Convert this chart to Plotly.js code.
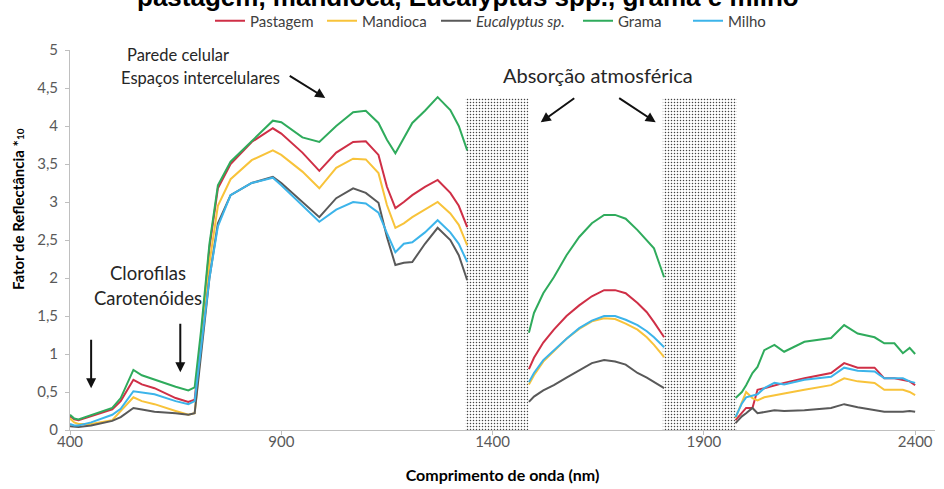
<!DOCTYPE html>
<html><head><meta charset="utf-8">
<script src="https://cdn.plot.ly/plotly-3.0.1.min.js"></script>
<style>html,body{margin:0;padding:0;background:#fff}#chart{width:944px;height:489px}</style>
</head><body><div id="chart"></div>
<script>
// wavelengths (nm); null marks the gaps at the atmospheric absorption bands
const wavelength = [400,410,420,450,500,520,550,570,600,650,680,695,710,730,750,780,830,880,900,950,990,1030,1070,1100,1130,1150,1170,1190,1210,1240,1270,1300,1320,1340,
  null,
  1486,1498,1520,1545,1575,1605,1635,1664,1690,1715,1743,1765,1782,1806,
  null,
  1975,1990,2000,2015,2027,2043,2067,2090,2138,2201,2232,2264,2304,2327,2351,2371,2387,2400];

const pastagem = [0.18,0.14,0.13,0.18,0.27,0.38,0.66,0.6,0.55,0.42,0.37,0.4,1.2,2.4,3.18,3.5,3.79,3.97,3.9,3.65,3.41,3.65,3.79,3.8,3.62,3.2,2.92,3.0,3.09,3.2,3.29,3.12,2.95,2.67,
  null,
  0.8,0.95,1.15,1.32,1.5,1.64,1.76,1.84,1.84,1.8,1.67,1.55,1.42,1.22,
  null,
  0.13,0.22,0.29,0.29,0.53,0.55,0.59,0.62,0.68,0.75,0.88,0.82,0.82,0.68,0.68,0.66,0.64,0.59];

const mandioca = [0.15,0.1,0.08,0.08,0.13,0.25,0.43,0.38,0.34,0.25,0.2,0.22,1.05,2.2,2.95,3.3,3.55,3.68,3.62,3.4,3.18,3.45,3.57,3.56,3.38,2.96,2.66,2.72,2.8,2.9,3.0,2.85,2.7,2.43,
  null,
  0.6,0.72,0.9,1.04,1.2,1.33,1.43,1.47,1.46,1.4,1.32,1.22,1.12,0.96,
  null,
  0.16,0.35,0.5,0.42,0.39,0.43,0.46,0.48,0.53,0.59,0.68,0.64,0.62,0.53,0.53,0.53,0.5,0.46];

const eucalyptus = [0.05,0.04,0.04,0.06,0.12,0.17,0.29,0.27,0.24,0.22,0.2,0.22,1.0,2.0,2.72,3.09,3.25,3.33,3.25,3.0,2.8,3.05,3.18,3.12,2.99,2.54,2.17,2.2,2.21,2.45,2.66,2.5,2.3,1.97,
  null,
  0.37,0.44,0.52,0.59,0.69,0.79,0.88,0.92,0.9,0.86,0.75,0.69,0.63,0.55,
  null,
  0.09,0.18,0.22,0.29,0.22,0.24,0.26,0.25,0.26,0.29,0.34,0.3,0.26,0.24,0.24,0.24,0.25,0.24];

const grama = [0.2,0.15,0.14,0.2,0.29,0.42,0.79,0.72,0.66,0.57,0.52,0.56,1.3,2.45,3.22,3.53,3.8,4.07,4.05,3.85,3.79,4.0,4.18,4.2,4.04,3.82,3.64,3.85,4.04,4.2,4.38,4.21,4.0,3.68,
  null,
  1.28,1.54,1.8,2.01,2.3,2.54,2.72,2.83,2.83,2.78,2.63,2.5,2.39,2.01,
  null,
  0.42,0.5,0.59,0.75,0.83,1.05,1.12,1.03,1.16,1.21,1.38,1.27,1.22,1.14,1.14,1.01,1.08,1.0];

const milho = [0.08,0.06,0.06,0.1,0.2,0.28,0.51,0.49,0.47,0.38,0.34,0.38,1.05,2.0,2.68,3.09,3.25,3.32,3.22,2.95,2.74,2.9,3.0,2.98,2.86,2.59,2.34,2.45,2.47,2.6,2.76,2.6,2.45,2.21,
  null,
  0.63,0.75,0.92,1.05,1.2,1.34,1.44,1.5,1.5,1.45,1.38,1.3,1.22,1.09,
  null,
  0.17,0.35,0.43,0.45,0.47,0.55,0.62,0.6,0.66,0.7,0.82,0.78,0.77,0.68,0.68,0.68,0.64,0.62];

// atmospheric absorption bands (nm) and the height of their shading
const bandStart = [1336, 1803];
const bandEnd = [1485, 1978];
const bandTop = [4.37, 4.37];

const seriesNames = ['Pastagem', 'Mandioca', '<i>Eucalyptus sp.</i>', 'Grama', 'Milho'];
const seriesData = [pastagem, mandioca, eucalyptus, grama, milho];
const seriesColors = ['#cf2f46', '#f8c33a', '#595959', '#2fab5c', '#3cb4ea'];

const yTickVals = [0,0.5,1,1.5,2,2.5,3,3.5,4,4.5,5];
const yTickText = ['0','0,5','1','1,5','2','2,5','3','3,5','4','4,5','5'];
const xTickVals = [400, 900, 1400, 1900, 2400];

const FONT = 'Lato, "Open Sans", sans-serif';
const legendIds = ['legend', 'legend2', 'legend3', 'legend4', 'legend5'];
const legendX = [210, 322, 436, 578, 688];   // px left edge of each legend entry

const traces = [{
  type: 'bar',
  x: bandStart.map((s, i) => (s + bandEnd[i]) / 2),
  y: bandTop,
  width: bandStart.map((s, i) => bandEnd[i] - s),
  marker: {color: '#ffffff', line: {width: 0},
    pattern: {shape: '.', fgcolor: '#444444', bgcolor: '#ffffff', size: 3, solidity: 0.2}},
  showlegend: false, hoverinfo: 'skip'
}];
seriesData.forEach((d, i) => traces.push({
  type: 'scatter', mode: 'lines', x: wavelength, y: d, name: seriesNames[i],
  legend: legendIds[i],
  line: {color: seriesColors[i], width: 2}, connectgaps: false
}));

const arrowBase = {xref: 'x', yref: 'y', axref: 'pixel', ayref: 'pixel', text: '', showarrow: true,
  arrowhead: 2, arrowsize: 1, arrowwidth: 2, arrowcolor: '#111'};
const txt = (s) => ({family: FONT, size: s, color: '#262626'});

const layout = {
  width: 944, height: 489,
  margin: {l: 70, r: 9, t: 50, b: 59},
  paper_bgcolor: '#fff', plot_bgcolor: '#fff',
  showlegend: true,
  barmode: 'overlay',
  xaxis: {range: [400, 2447], tickvals: xTickVals, ticks: 'outside', ticklen: 4, tickcolor: '#bfbfbf',
    showline: true, linecolor: '#bfbfbf', linewidth: 1, showgrid: false, zeroline: false,
    ticklabelstandoff: -6,
    tickfont: {family: FONT, size: 15, color: '#595959'},
    title: {text: '<b>Comprimento de onda (nm)</b>', font: {family: FONT, size: 16, color: '#000'}, standoff: 20}},
  yaxis: {range: [0, 5], tickvals: yTickVals, ticktext: yTickText, ticks: 'outside', ticklen: 4, tickcolor: '#bfbfbf',
    showline: true, linecolor: '#bfbfbf', linewidth: 1, showgrid: false, zeroline: false,
    ticklabelstandoff: 4,
    tickfont: {family: FONT, size: 15, color: '#595959'}},
  annotations: [
    {xref: 'paper', yref: 'paper', x: (468 - 70) / 865, y: 1, yshift: 53, xanchor: 'center', yanchor: 'middle',
      text: '<b>pastagem, mandioca, Eucalyptus spp., grama e milho</b>', showarrow: false,
      font: {family: 'Liberation Sans, Arial, sans-serif', size: 26, color: '#000'}},
    {xref: 'paper', yref: 'paper', x: (18 - 70) / 865, y: (430 - 209) / 380, textangle: -90,
      text: '<b>Fator de Reflectância *<span style="font-size:10px">10</span></b>', showarrow: false,
      xanchor: 'center', yanchor: 'middle', font: {family: FONT, size: 15, color: '#000'}},
    {xref: 'x', yref: 'y', x: 530, y: 4.93, text: 'Parede celular', showarrow: false, xanchor: 'left', yanchor: 'middle', font: txt(16.5)},
    {xref: 'x', yref: 'y', x: 516, y: 4.63, text: 'Espaços intercelulares', showarrow: false, xanchor: 'left', yanchor: 'middle', font: txt(16.5)},
    {xref: 'x', yref: 'y', x: 1649, y: 4.67, text: 'Absorção atmosférica', showarrow: false, xanchor: 'center', yanchor: 'middle', font: txt(20)},
    {xref: 'x', yref: 'y', x: 585, y: 2.07, text: 'Clorofilas', showarrow: false, xanchor: 'center', yanchor: 'middle', font: txt(18.5)},
    {xref: 'x', yref: 'y', x: 585, y: 1.74, text: 'Carotenóides', showarrow: false, xanchor: 'center', yanchor: 'middle', font: txt(18.5)},
    Object.assign({}, arrowBase, {x: 1004, y: 4.37, ax: -37, ay: -23}),
    Object.assign({}, arrowBase, {x: 1514, y: 4.05, ax: 35, ay: -25}),
    Object.assign({}, arrowBase, {x: 1786, y: 4.05, ax: -38, ay: -25}),
    Object.assign({}, arrowBase, {x: 450, y: 0.55, ax: 0, ay: -50}),
    Object.assign({}, arrowBase, {x: 661, y: 0.76, ax: 0, ay: -50})
  ]
};
legendIds.forEach((id, i) => {
  layout[id] = {orientation: 'h', x: legendX[i] / 944, xref: 'container', xanchor: 'left',
    y: 1 - 21 / 489, yref: 'container', yanchor: 'middle',
    font: {family: FONT, size: 15, color: '#404040'}, bgcolor: 'rgba(0,0,0,0)'};
});

Plotly.newPlot('chart', traces, layout, {displayModeBar: false, staticPlot: true});
</script>
</body></html>
